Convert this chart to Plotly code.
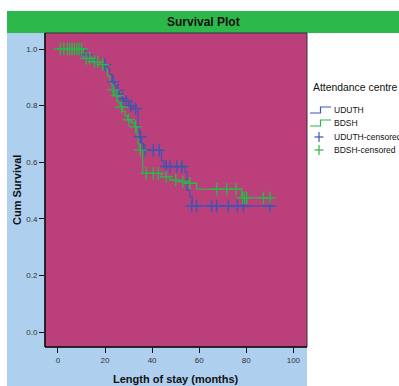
import plotly.graph_objects as go

# UDUTH (blue) step curve: event times and survival after each event
uduth_t = [0, 11, 13, 16, 19, 21, 22, 23, 24, 25, 26, 27, 28, 30, 32, 34, 34.5, 35.5, 36.3, 44, 45, 54, 54.8, 56, 57, 91]
uduth_s = [1.0, 0.98, 0.965, 0.955, 0.945, 0.93, 0.91, 0.885, 0.87, 0.855, 0.84, 0.825, 0.815, 0.80, 0.79, 0.73, 0.69, 0.665, 0.643, 0.605, 0.585, 0.567, 0.502, 0.479, 0.446, 0.446]
uduth_cens_t = [12, 20, 23.5, 25.5, 27.5, 29, 31, 33, 35, 37, 40.5, 43, 46, 47.6, 50.5, 52.6, 56.8, 58.9, 65.3, 67.4, 72.4, 76.2, 78.8, 90.1]
uduth_cens_s = [0.98, 0.945, 0.885, 0.855, 0.825, 0.815, 0.80, 0.79, 0.69, 0.643, 0.643, 0.643, 0.585, 0.585, 0.585, 0.585, 0.446, 0.446, 0.446, 0.446, 0.446, 0.446, 0.446, 0.446]

# BDSH (green) step curve
bdsh_t = [0, 10.8, 14.5, 18, 20, 21, 22, 23, 24, 25.5, 26.5, 27.5, 28.5, 29.5, 31, 32.5, 33.5, 34, 34.5, 36, 44, 47.6, 51, 54, 58.9, 78, 91.2]
bdsh_s = [1.0, 0.967, 0.955, 0.945, 0.93, 0.905, 0.885, 0.855, 0.835, 0.81, 0.795, 0.78, 0.765, 0.75, 0.74, 0.725, 0.70, 0.665, 0.643, 0.561, 0.549, 0.538, 0.532, 0.526, 0.505, 0.475, 0.475]
bdsh_cens_t = [1, 2.5, 4, 5, 6, 7, 8, 9, 10, 12, 13.5, 15.5, 17, 19, 23.5, 25, 27, 30, 33, 35, 37.5, 40.5, 42.6, 46, 50, 53, 56, 67.4, 71.7, 75.6, 78.5, 79.3, 80.2, 87.3, 90.1]
bdsh_cens_s = [1.0, 1.0, 1.0, 1.0, 1.0, 1.0, 1.0, 1.0, 1.0, 0.967, 0.967, 0.955, 0.955, 0.945, 0.855, 0.835, 0.795, 0.75, 0.725, 0.643, 0.561, 0.561, 0.561, 0.549, 0.538, 0.532, 0.526, 0.505, 0.505, 0.505, 0.475, 0.475, 0.475, 0.475, 0.475]

x_ticks = [0, 20, 40, 60, 80, 100]
y_ticks = [0.0, 0.2, 0.4, 0.6, 0.8, 1.0]
y_tick_labels = ["0.0", "0.2", "0.4", "0.6", "0.8", "1.0"]

legend_title = "Attendance centre"
legend_names = ["UDUTH", "BDSH", "UDUTH-censored", "BDSH-censored"]

BLUE = "#3c55b2"
GREEN = "#2cb54a"
MAGENTA = "#bb3f7a"
LIGHTBLUE = "#aecfee"
TITLEGREEN = "#2db84b"
FONT = "Liberation Sans, Arial"

fig = go.Figure()
fig.add_trace(go.Scatter(x=uduth_t, y=uduth_s, mode="lines", line=dict(color=BLUE, width=1.2, shape="hv"), name=legend_names[0]))
fig.add_trace(go.Scatter(x=bdsh_t, y=bdsh_s, mode="lines", line=dict(color=GREEN, width=1.2, shape="hv"), name=legend_names[1]))
fig.add_trace(go.Scatter(x=uduth_cens_t, y=uduth_cens_s, mode="markers",
                         marker=dict(symbol="cross-thin", size=9, line=dict(color=BLUE, width=1.4), color=BLUE),
                         name=legend_names[2]))
fig.add_trace(go.Scatter(x=bdsh_cens_t, y=bdsh_cens_s, mode="markers",
                         marker=dict(symbol="cross-thin", size=9, line=dict(color=GREEN, width=1.4), color=GREEN),
                         name=legend_names[3]))

W, H = 399, 386
L, R, T, B = 45, 92, 33, 39
pw, ph = W - L - R, H - T - B

def px(xp):
    return (xp - L) / pw

def py(yp):
    return (H - B - yp) / ph

shapes = [
    dict(type="rect", xref="paper", yref="paper", x0=px(7), x1=px(307), y0=py(390), y1=py(33),
         fillcolor=LIGHTBLUE, line=dict(width=0), layer="below"),
    dict(type="rect", xref="paper", yref="paper", x0=px(7), x1=px(402), y0=py(33), y1=py(11),
         fillcolor=TITLEGREEN, line=dict(width=0), layer="below"),
    dict(type="rect", xref="paper", yref="paper", x0=0, x1=1, y0=0, y1=1,
         fillcolor=MAGENTA, line=dict(width=0), layer="below"),
    dict(type="rect", xref="paper", yref="paper", x0=0, x1=1, y0=0, y1=1,
         fillcolor="rgba(0,0,0,0)", line=dict(color="#333333", width=1), layer="above"),
    dict(type="line", xref="paper", yref="paper", x0=0, x1=0, y0=0, y1=1, line=dict(color="#111111", width=1.5), layer="above"),
    dict(type="line", xref="paper", yref="paper", x0=0, x1=1, y0=0, y1=0, line=dict(color="#111111", width=1.5), layer="above"),
]

# manual legend: step icons for lines, crosses for censored markers
for (ylow, yhigh, col) in [(113, 107, BLUE), (126, 120, GREEN)]:
    shapes.append(dict(type="path", xref="paper", yref="paper",
                       path=f"M {px(310)} {py(ylow)} L {px(320.5)} {py(ylow)} L {px(320.5)} {py(yhigh)} L {px(331)} {py(yhigh)}",
                       line=dict(color=col, width=1.2)))
for (cy, col) in [(137, BLUE), (150, GREEN)]:
    shapes.append(dict(type="line", xref="paper", yref="paper", x0=px(314.5), x1=px(323.5), y0=py(cy), y1=py(cy),
                       line=dict(color=col, width=1.2)))
    shapes.append(dict(type="line", xref="paper", yref="paper", x0=px(319), x1=px(319), y0=py(cy - 5), y1=py(cy + 5),
                       line=dict(color=col, width=1.2)))

annotations = [
    dict(text="<b>Survival Plot</b>", xref="paper", yref="paper", x=px(203), y=py(22), showarrow=False,
         font=dict(family=FONT, size=12, color="#111111"), xanchor="center", yanchor="middle"),
    dict(text="<b>Cum Survival</b>", xref="paper", yref="paper", x=px(17), y=py(190), showarrow=False, textangle=-90,
         font=dict(family=FONT, size=11, color="#111111"), xanchor="center", yanchor="middle"),
    dict(text="<b>Length of stay (months)</b>", xref="paper", yref="paper", x=px(176), y=py(379), showarrow=False,
         font=dict(family=FONT, size=11, color="#111111"), xanchor="center", yanchor="middle"),
    dict(text=legend_title, xref="paper", yref="paper", x=px(311), y=py(88), showarrow=False,
         font=dict(family=FONT, size=10.4, color="#111111"), xanchor="left", yanchor="middle"),
]
for name, cy in zip(legend_names, [110, 123, 137, 150]):
    annotations.append(dict(text=name, xref="paper", yref="paper", x=px(332), y=py(cy), showarrow=False,
                            font=dict(family=FONT, size=8.5, color="#111111"), xanchor="left", yanchor="middle"))

fig.update_layout(
    width=W, height=H,
    margin=dict(l=L, r=R, t=T, b=B, pad=0),
    paper_bgcolor="white",
    plot_bgcolor=MAGENTA,
    shapes=shapes,
    annotations=annotations,
    showlegend=False,
    font=dict(family=FONT),
)
fig.update_xaxes(range=[-5.5, 105.8], tickvals=x_ticks, ticks="outside", ticklen=5, tickcolor="#111111",
                 showgrid=False, zeroline=False, showline=False,
                 tickfont=dict(size=8, color="#333333"))
fig.update_yaxes(range=[-0.052, 1.0565], tickvals=y_ticks, ticktext=y_tick_labels, ticks="outside", ticklen=5,
                 tickcolor="#111111", showgrid=False, zeroline=False, showline=False,
                 tickfont=dict(size=8, color="#333333"))

fig.write_html("out.html", config={"displayModeBar": False},
               post_script="document.body.style.margin='0';document.body.style.overflow='hidden';")
